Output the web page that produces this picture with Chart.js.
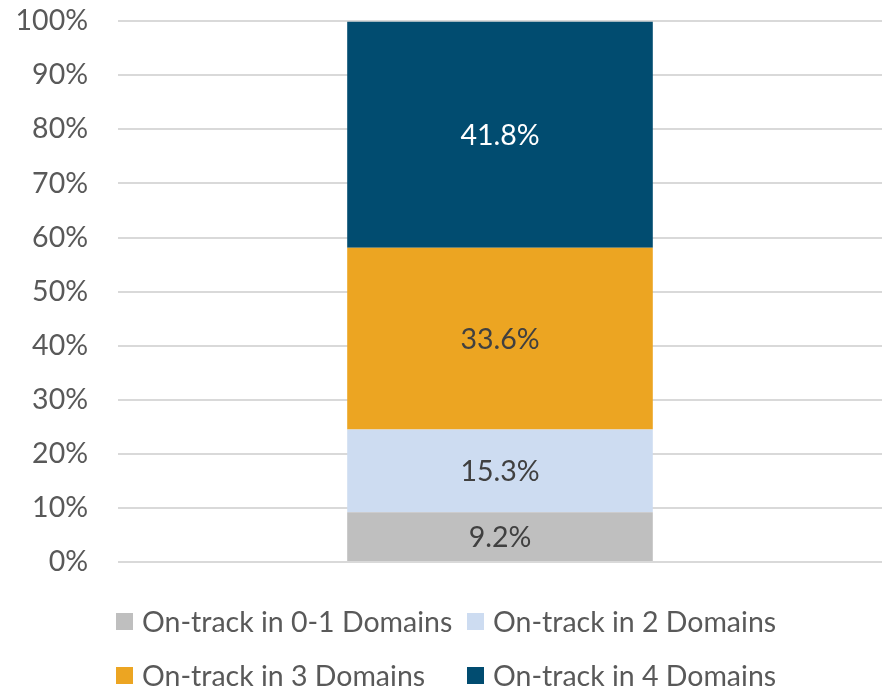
<!DOCTYPE html>
<html>
<head>
<meta charset="utf-8">
<script src="https://cdn.jsdelivr.net/npm/chart.js@4.4.1/dist/chart.umd.min.js"></script>
<style>
  body { margin: 0; background: #fff; font-family: Lato, "Open Sans", sans-serif; }
  #wrap { position: absolute; left: 0; top: 0; width: 887px; height: 580px; }
  #legend {
    position: absolute; left: 116px; top: 604px;
    display: grid; grid-template-columns: 351px auto; row-gap: 20px;
    color: #595959; font-size: 28.5px;
  }
  .item { display: flex; align-items: center; height: 34px; white-space: nowrap; }
  .box { width: 17px; height: 17px; margin-right: 9px; }
</style>
</head>
<body>
<div id="wrap"><canvas id="chart"></canvas></div>
<div id="legend"></div>
<script>
// === Data ===
const categories = [""];
const seriesNames = ["On-track in 0-1 Domains", "On-track in 2 Domains", "On-track in 3 Domains", "On-track in 4 Domains"];
const seriesValues = [[9.2], [15.3], [33.6], [41.8]];
const seriesColors = ["#bfbfbf", "#cddcf1", "#eca522", "#014c70"];
const labelColors = ["#404040", "#404040", "#404040", "#ffffff"];
const yTicks = [0, 10, 20, 30, 40, 50, 60, 70, 80, 90, 100];

const FONT = "Lato, 'Open Sans', sans-serif";
const FONT_SIZE = 28.5;

// === Segment labels ===
const segmentLabels = {
  id: "segmentLabels",
  afterDatasetsDraw(chart) {
    const ctx = chart.ctx;
    ctx.save();
    ctx.font = `${FONT_SIZE}px ${FONT}`;
    ctx.textAlign = "center";
    ctx.textBaseline = "middle";
    chart.data.datasets.forEach((ds, i) => {
      chart.getDatasetMeta(i).data.forEach((bar, j) => {
        const mid = (bar.y + bar.base) / 2;
        ctx.fillStyle = labelColors[i];
        ctx.fillText(ds.data[j].toFixed(1) + "%", bar.x, mid + 1);
      });
    });
    ctx.restore();
  }
};

const datasets = seriesNames.map((name, i) => ({
  label: name,
  data: seriesValues[i],
  backgroundColor: seriesColors[i],
  borderWidth: 0,
  barPercentage: 0.4,
  categoryPercentage: 1,
}));

const chart = new Chart(document.getElementById("chart"), {
  type: "bar",
  data: { labels: categories, datasets },
  plugins: [segmentLabels],
  options: {
    responsive: true,
    maintainAspectRatio: false,
    animation: false,
    layout: { padding: { top: 21, bottom: 18, right: 5, left: 0 } },
    plugins: { legend: { display: false }, tooltip: { enabled: false } },
    scales: {
      x: { stacked: true, display: false },
      y: {
        stacked: true,
        min: 0, max: 100,
        afterFit: (s) => { s.width = 118; },
        afterBuildTicks: (s) => { s.ticks = yTicks.map(v => ({ value: v })); },
        border: { display: false },
        grid: { color: "#d9d9d9", lineWidth: 2, drawTicks: false },
        ticks: {
          padding: 30,
          color: "#595959",
          font: { family: FONT, size: FONT_SIZE },
          callback: (v) => v + "%",
        },
      },
    },
  },
});

// Nudge the canvas so the plot area sits at y 21..562 whatever padding the axis added
const ca = chart.chartArea;
const wrap = document.getElementById("wrap");
const newH = 580 + (562 - 21) - (ca.bottom - ca.top);
wrap.style.height = newH + "px";
chart.resize();
wrap.style.top = (21 - chart.chartArea.top) + "px";

// === Legend (two aligned columns) ===
const legend = document.getElementById("legend");
seriesNames.forEach((name, i) => {
  const el = document.createElement("div");
  el.className = "item";
  el.innerHTML = `<span class="box" style="background:${seriesColors[i]}"></span><span>${name}</span>`;
  legend.appendChild(el);
});
</script>
</body>
</html>
